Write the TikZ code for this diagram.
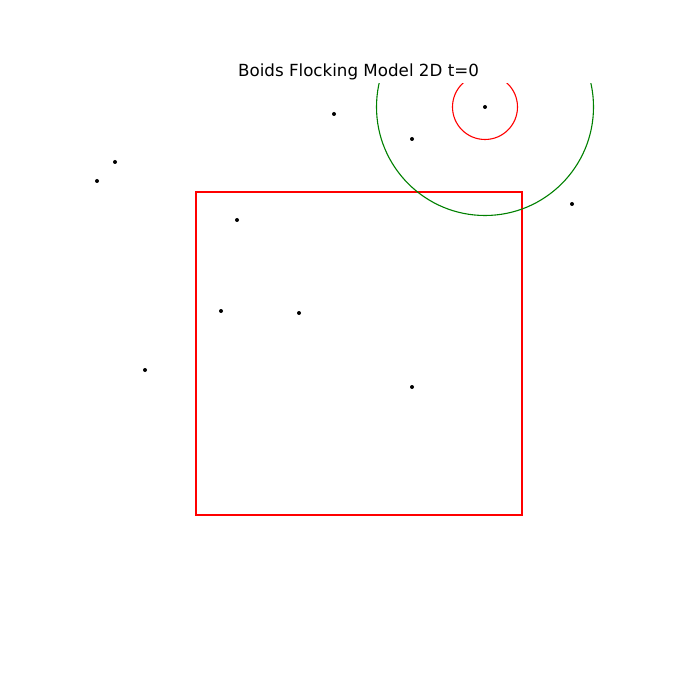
\documentclass[tikz,border=0pt]{standalone}
\usepackage{fontspec}
\setmainfont{DejaVu Sans}
\begin{document}
\begin{tikzpicture}[x=1pt,y=-1pt,
  boid/.style={circle,fill=black,inner sep=0pt,minimum size=4pt},
  region/.style={draw=red,line width=1.1pt},
  sep/.style={draw=red,line width=1.1pt},
  coh/.style={draw={rgb,255:red,0;green,128;blue,0},line width=1.1pt}]
\useasboundingbox (0,0) rectangle (700,700);
\node[font=\fontsize{16.7}{20}\selectfont] (title) at (358.5,71.5) {Boids Flocking Model 2D t=0};
\node[boid] (b1) at (115,162) {};
\node[boid] (b2) at (97,181) {};
\node[boid] (b3) at (334,114) {};
\node[boid] (b4) at (412,139) {};
\node[boid] (b5) at (485,107) {};
\node[boid] (b6) at (572,204) {};
\node[boid] (b7) at (237,220) {};
\node[boid] (b8) at (221,311) {};
\node[boid] (b9) at (299,313) {};
\node[boid] (b10) at (145,370) {};
\node[boid] (b11) at (412,387) {};
\draw[region] (196,192) rectangle (522,515);
\begin{scope}
\clip (87.5,84) rectangle (630,623);
\draw[coh] (b5.center) circle (108.5);
\draw[sep] (b5.center) circle (32.5);
\end{scope}
\end{tikzpicture}
\end{document}
